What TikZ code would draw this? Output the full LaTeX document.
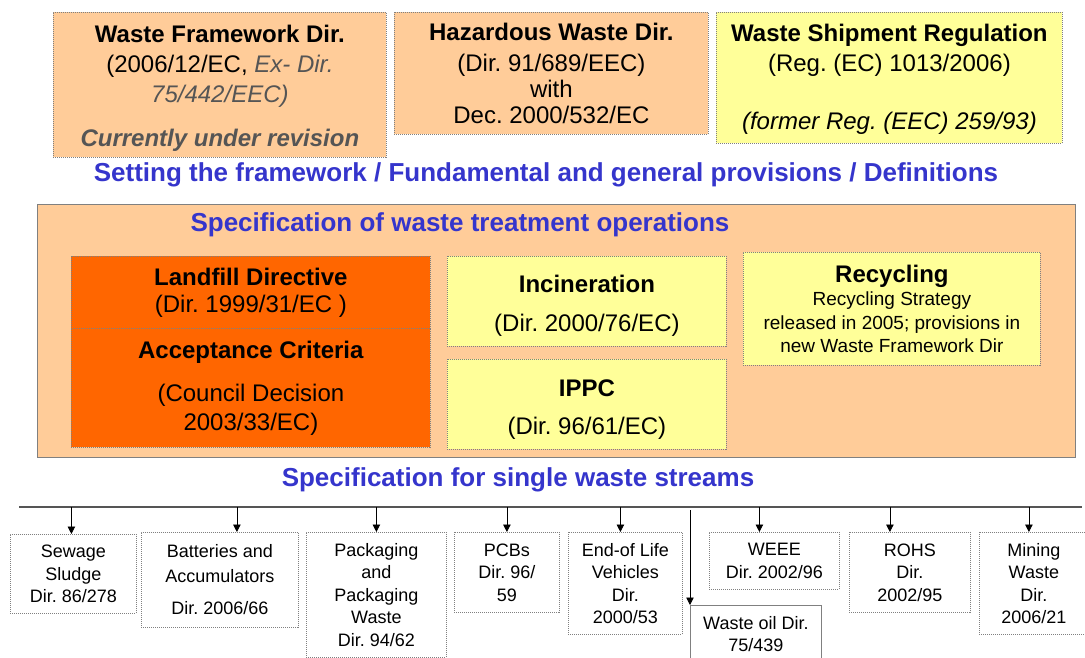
\documentclass[tikz,border=0pt]{standalone}
\usepackage{fontspec}
\setmainfont{Liberation Sans}
\usetikzlibrary{arrows.meta}
\definecolor{lightorange}{HTML}{FFCC99}
\definecolor{darkorange}{HTML}{FF6600}
\definecolor{paleyellow}{HTML}{FFFF99}
\definecolor{headblue}{HTML}{3535CC}
\definecolor{notegray}{HTML}{555555}
\frenchspacing
\begin{document}
\begin{tikzpicture}[
        x=1pt, y=-1pt,
        every node/.style={inner sep=0pt, align=center},
        law/.style={draw=gray, line width=0.8pt, dash pattern=on 1pt off 1pt, anchor=north west},
        big/.style={font=\fontsize{24}{29}\selectfont},
        small/.style={font=\fontsize{18}{22.5}\selectfont},
        heading/.style={text=headblue, font=\fontsize{26}{30}\selectfont\bfseries},
        feed/.style={-{Triangle[length=7.5pt,width=7.5pt]}, line width=0.8pt},
    ]
    \useasboundingbox (0,0) rectangle (1085,657);

    \node[law, font=\fontsize{24}{30}\selectfont, fill=lightorange, minimum width=333pt, minimum height=145pt] (framework) at (53,12)
        {\rule{0pt}{24pt}\textbf{Waste Framework Dir.}\\(2006/12/EC, \textcolor{notegray}{\itshape Ex- Dir.}\\
        \textcolor{notegray}{\itshape 75/442/EEC)}\\[14pt]\textcolor{notegray}{\bfseries\itshape Currently under revision}};
    \node[law, font=\fontsize{24}{26}\selectfont, fill=lightorange, minimum width=314pt, minimum height=122pt] (hazardous) at (394,12)
        {\textbf{Hazardous Waste Dir.}\\[5pt](Dir. 91/689/EEC)\\with\\Dec. 2000/532/EC};
    \node[law, font=\fontsize{24}{30}\selectfont, fill=paleyellow, minimum width=346pt, minimum height=131pt] (shipment) at (716,12)
        {\rule{0pt}{21pt}\textbf{Waste Shipment Regulation}\\(Reg. (EC) 1013/2006)\\[28pt]\itshape (former Reg. (EEC) 259/93)};
    \node[heading] (setting) at (546,175) {Setting the framework / Fundamental and general provisions / Definitions};

    \node[draw=gray, line width=1.2pt, fill=lightorange, anchor=north west, minimum width=1038pt, minimum height=253pt] (operations) at (37,204) {};
    \node[heading] (treatment) at (460,225) {Specification of waste treatment operations};
    \node[law, font=\fontsize{24}{27}\selectfont, fill=darkorange, minimum width=359pt, minimum height=72pt] (landfill) at (71,256)
        {\textbf{Landfill Directive}\\(Dir. 1999/31/EC )};
    \node[law, big, fill=darkorange, minimum width=359pt, minimum height=119pt] (acceptance) at (71,328)
        {\textbf{Acceptance Criteria}\\[14pt](Council Decision\\2003/33/EC)};
    \node[law, big, fill=paleyellow, minimum width=279pt, minimum height=90pt] (incineration) at (447,256)
        {\rule{0pt}{27pt}\textbf{Incineration}\\[10pt](Dir. 2000/76/EC)};
    \node[law, big, fill=paleyellow, minimum width=279pt, minimum height=90pt] (ippc) at (447,359)
        {\rule{0pt}{28pt}\textbf{IPPC}\\[9pt](Dir. 96/61/EC)};
    \node[law, font=\fontsize{19}{23.5}\selectfont, fill=paleyellow, minimum width=297pt, minimum height=113pt] (recycling) at (743,252)
        {{\fontsize{24}{26}\selectfont\bfseries Recycling}\\Recycling Strategy\\released in 2005; provisions in\\new Waste Framework Dir};

    \node[heading] (streams) at (518,480) {Specification for single waste streams};
    \coordinate (rail) at (19,507);
    \coordinate (railend) at (1082,507);
    \draw[notegray, line width=1.2pt] (rail) -- (railend);

    \node[law, small, minimum width=126pt, minimum height=79pt] (sludge) at (10,534) {Sewage\\Sludge\\Dir. 86/278};
    \node[law, small, font=\fontsize{18}{25}\selectfont, minimum width=157pt, minimum height=95pt] (batteries) at (141,532)
        {Batteries and\\Accumulators\\[7pt]Dir. 2006/66};
    \node[law, small, minimum width=140pt, minimum height=125pt] (packaging) at (306,532) {Packaging\\and\\Packaging\\Waste\\Dir. 94/62};
    \node[law, small, minimum width=105pt, minimum height=80pt] (pcbs) at (454,532) {PCBs\\Dir. 96/\\59};
    \node[law, small, minimum width=114pt, minimum height=102pt] (vehicles) at (568,532) {End-of Life\\Vehicles\\Dir.\\2000/53};
    \node[draw=gray, line width=0.8pt, fill=white, anchor=north west, small, minimum width=131pt, minimum height=57pt] (wasteoil) at (690,605)
        {Waste oil Dir.\\75/439};
    \node[law, small, minimum width=130pt, minimum height=57pt] (weee) at (709,532) {WEEE\\Dir. 2002/96};
    \node[law, small, minimum width=121pt, minimum height=80pt] (rohs) at (849,532) {ROHS\\Dir.\\2002/95};
    \node[law, small, minimum width=109pt, minimum height=102pt] (mining) at (979,532) {Mining\\Waste\\Dir.\\2006/21};

    \foreach \stream/\dx in {sludge/-2, batteries/17, packaging/0, pcbs/0, vehicles/-5, weee/-15, rohs/-20, mining/-5}
        \draw[feed] ([xshift=\dx pt]\stream.north |- rail) -- ([xshift=\dx pt]\stream.north);
    \draw[feed] ([yshift=-3pt]wasteoil.north west |- rail) -- (wasteoil.north west);
\end{tikzpicture}
\end{document}
